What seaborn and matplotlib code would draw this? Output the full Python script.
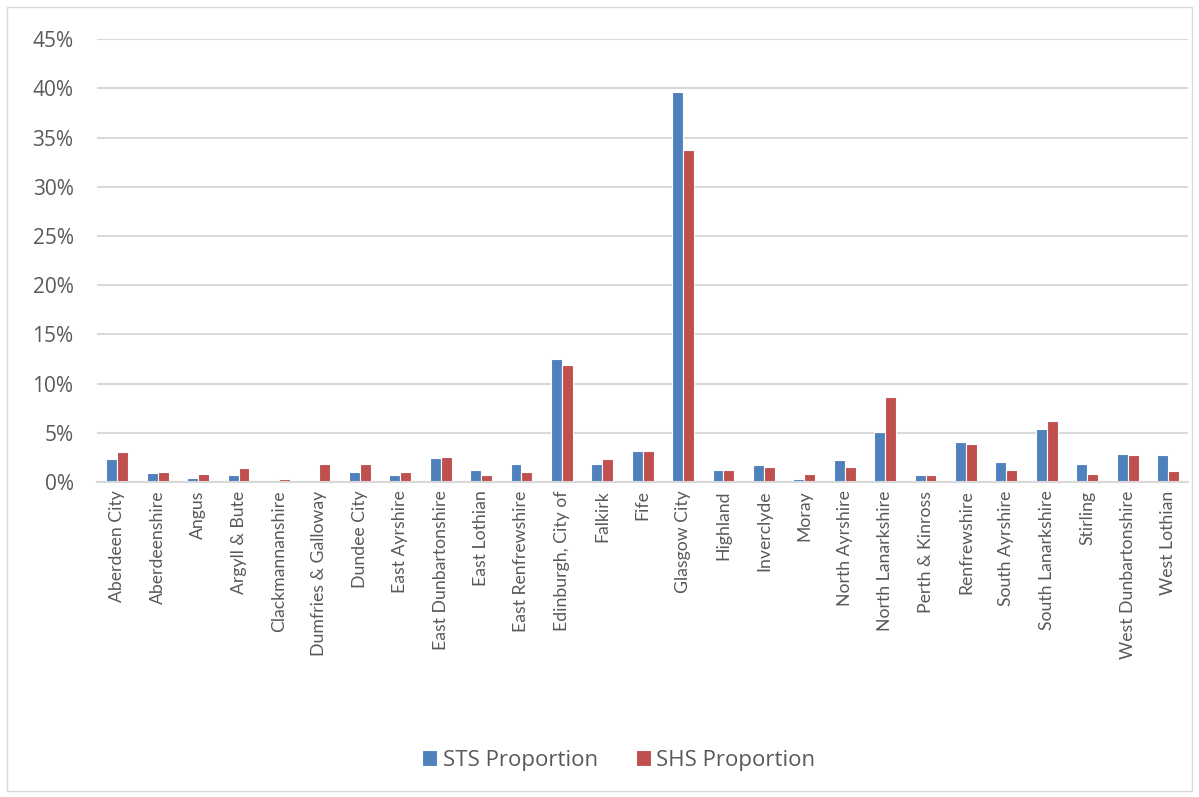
import matplotlib
matplotlib.use('Agg')
import matplotlib.pyplot as plt
import matplotlib.patches as mpatches
from matplotlib.ticker import PercentFormatter
import seaborn as sns
import pandas as pd

areas = ['Aberdeen City', 'Aberdeenshire', 'Angus', 'Argyll & Bute', 'Clackmannanshire',
         'Dumfries & Galloway', 'Dundee City', 'East Ayrshire', 'East Dunbartonshire',
         'East Lothian', 'East Renfrewshire', 'Edinburgh, City of', 'Falkirk', 'Fife',
         'Glasgow City', 'Highland', 'Inverclyde', 'Moray', 'North Ayrshire',
         'North Lanarkshire', 'Perth & Kinross', 'Renfrewshire', 'South Ayrshire',
         'South Lanarkshire', 'Stirling', 'West Dunbartonshire', 'West Lothian']
sts = [2.4, 0.9, 0.4, 0.7, 0.0, 0.0, 1.0, 0.7, 2.5, 1.2, 1.8, 12.5, 1.8, 3.2,
       39.6, 1.2, 1.7, 0.3, 2.3, 5.1, 0.7, 4.1, 2.0, 5.4, 1.8, 2.9, 2.8]
shs = [3.1, 1.0, 0.8, 1.4, 0.3, 1.8, 1.8, 1.0, 2.6, 0.7, 1.0, 11.9, 2.4, 3.2,
       33.7, 1.2, 1.5, 0.8, 1.5, 8.6, 0.7, 3.9, 1.2, 6.2, 0.8, 2.8, 1.1]
series = ['STS Proportion', 'SHS Proportion']
colors = ['#4F81BD', '#C0504D']

df = pd.DataFrame({'Area': areas * 2,
                   'Series': [series[0]] * len(areas) + [series[1]] * len(areas),
                   'Value': sts + shs})

sns.set_style('white')
plt.rcParams['font.family'] = ['Open Sans', 'DejaVu Sans']

fig = plt.figure(figsize=(11.99, 7.97), dpi=100)
ax = fig.add_axes([0.081, 0.395, 0.91, 0.556])

sns.barplot(data=df, x='Area', y='Value', hue='Series', palette=colors, saturation=1,
            width=0.54, edgecolor='white', linewidth=0.8, ax=ax, legend=True)

ax.set_ylim(0, 45)
ax.set_yticks(range(0, 46, 5))
ax.yaxis.set_major_formatter(PercentFormatter(decimals=0))
ax.grid(axis='y', color='#D9D9D9', linewidth=1.5)
ax.set_axisbelow(True)
for s in ['top', 'right', 'left']:
    ax.spines[s].set_visible(False)
ax.spines['bottom'].set_color('#D9D9D9')
ax.spines['bottom'].set_linewidth(1.5)
ax.set_xlim(-0.5, len(areas) - 0.5)
ax.set_xlabel('')
ax.set_ylabel('')
ax.tick_params(axis='both', length=0, colors='#595959')
ax.tick_params(axis='y', labelsize=15, pad=17)
ax.tick_params(axis='x', pad=6)
for lbl in ax.get_xticklabels():
    lbl.set_rotation(90)
    lbl.set_family(['Lato', 'DejaVu Sans'])
    lbl.set_fontsize(12.7)

handles, labels = ax.get_legend_handles_labels()
ax.get_legend().remove()
fig.legend(handles, labels, loc='center', bbox_to_anchor=(0.516, 0.046), ncol=2,
           frameon=False, handlelength=0.68, handleheight=0.68, handletextpad=0.25,
           columnspacing=1.7, fontsize=16, labelcolor='#595959')

fig.patches.append(mpatches.Rectangle((0.006, 0.008), 0.988, 0.983, transform=fig.transFigure,
                                      fill=False, edgecolor='#D9D9D9', linewidth=1))

fig.savefig('out.png', dpi=100)
